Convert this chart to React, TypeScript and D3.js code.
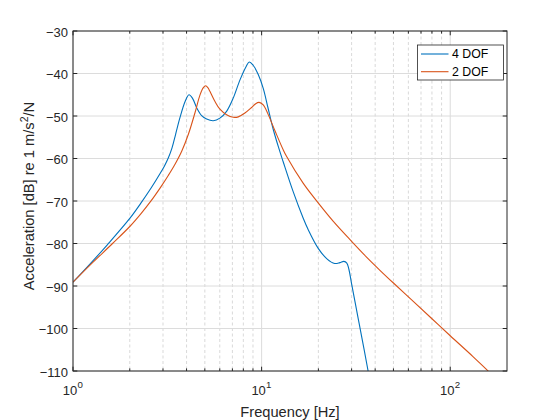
import React from 'react';
import * as d3 from 'd3';

// ---- data ----
const freq4 = [1.0, 1.25, 1.52, 2.0, 2.29, 2.6, 2.89, 3.05, 3.2, 3.35, 3.5, 3.69, 3.93, 4.12, 4.31, 4.52, 4.81, 5.11, 5.54, 6.01, 6.52, 7.07, 7.68, 8.27, 8.6, 9.0, 9.61, 10.2, 10.8, 11.5, 12.3, 13.0, 14.7, 16.6, 17.6, 20, 22.2, 24.4, 26, 27.3, 28.3, 29, 30, 32.5, 34.9, 36.7, 38];
const db4 = [-89.1, -84.5, -80.3, -74.1, -70.5, -66.9, -63.6, -61.8, -59.9, -57.5, -54.3, -50.4, -46.6, -45.0, -45.9, -48.0, -49.9, -50.7, -51.1, -50.5, -48.9, -45.8, -41.5, -38.4, -37.3, -38.0, -40.3, -43.5, -48.0, -53.0, -57.4, -60.7, -67.8, -74.0, -76.6, -81.2, -83.6, -84.7, -84.5, -84.2, -84.6, -86.0, -89.5, -97.6, -104.8, -110, -114];

const freq2 = [1.0, 1.25, 1.62, 2.0, 2.3, 2.58, 2.9, 3.2, 3.45, 3.77, 4.09, 4.43, 4.71, 4.9, 5.05, 5.2, 5.32, 5.66, 6.01, 6.52, 7.07, 7.52, 8.16, 8.85, 9.3, 9.7, 10.2, 10.8, 11.8, 13.0, 13.6, 16.6, 20, 24, 30, 36, 42.4, 50, 63.7, 80, 100, 132, 158, 175];
const db2 = [-89.1, -84.8, -80.0, -76.0, -72.9, -70.1, -66.9, -64.0, -61.6, -58.3, -54.3, -49.3, -45.1, -43.4, -42.9, -43.4, -44.2, -46.6, -48.4, -49.7, -50.3, -50.2, -49.3, -48.0, -47.1, -46.8, -47.4, -49.5, -53.6, -57.9, -59.6, -65.8, -70.5, -74.8, -79.5, -83.2, -86.3, -89.3, -93.6, -97.7, -101.7, -106.6, -109.9, -111.7];

const seriesNames = ['4 DOF', '2 DOF'];
const seriesColors = ['#0072BD', '#D95319'];
const yTicks = [-110, -100, -90, -80, -70, -60, -50, -40, -30];
const xTickExps = [0, 1, 2];
const xDomain = [1, 200];
const yDomain = [-110, -30];
const xLabel = 'Frequency [Hz]';
const yLabelMain = 'Acceleration [dB] re 1 m/s';
const yLabelSup = '2';
const yLabelEnd = '/N';

const W = 560, H = 420;
const L = 73, R = 507, T = 31, B = 371;
const AX = '#262626';
const FONT = '"Liberation Sans", Arial, Helvetica, sans-serif';

export default function App() {
  const x = d3.scaleLog().domain(xDomain).range([L, R]);
  const y = d3.scaleLinear().domain(yDomain).range([B, T]);

  const minor: number[] = [];
  for (const e of xTickExps) {
    for (let m = 2; m <= 9; m++) {
      const v = m * Math.pow(10, e);
      if (v < xDomain[1]) minor.push(v);
    }
  }

  const line = d3.line<[number, number]>()
    .x(d => x(d[0]))
    .y(d => y(d[1]))
    .curve(d3.curveCatmullRom.alpha(0.5));

  const s4 = freq4.map((f, i) => [f, db4[i]] as [number, number]);
  const s2 = freq2.map((f, i) => [f, db2[i]] as [number, number]);
  const series = [s4, s2];

  const fmt = (v: number) => (v < 0 ? '\u2212' + Math.abs(v) : String(v));

  const majTick = 4.3, minTick = 2.6;

  const legX = 417.5, legY = 45, legW = 86, legH = 35;

  return (
    <div style={{ position: 'absolute', left: 0, top: 0 }}>
      <svg width={W} height={H} style={{ display: 'block', fontFamily: FONT }}>
        <rect x={0} y={0} width={W} height={H} fill="#ffffff" />
        <defs>
          <clipPath id="plotclip">
            <rect x={L} y={T} width={R - L} height={B - T} />
          </clipPath>
        </defs>
        {/* minor x grid */}
        {minor.map((v, i) => (
          <line key={'mg' + i} x1={x(v)} x2={x(v)} y1={T} y2={B}
            stroke="#cfcfcf" strokeWidth={0.8} strokeDasharray="3,2.5" />
        ))}
        {/* major x grid */}
        {xTickExps.map(e => (
          <line key={'xg' + e} x1={x(Math.pow(10, e))} x2={x(Math.pow(10, e))} y1={T} y2={B}
            stroke="#dcdcdc" strokeWidth={1} />
        ))}
        {/* y grid */}
        {yTicks.map(v => (
          <line key={'yg' + v} x1={L} x2={R} y1={y(v)} y2={y(v)} stroke="#dcdcdc" strokeWidth={1} />
        ))}
        {/* curves */}
        <g clipPath="url(#plotclip)">
          {series.map((s, i) => (
            <path key={'s' + i} d={line(s) || ''} fill="none" stroke={seriesColors[i]} strokeWidth={1.1} />
          ))}
        </g>
        {/* box */}
        <rect x={L} y={T} width={R - L} height={B - T} fill="none" stroke={AX} strokeWidth={1} />
        {/* y ticks */}
        {yTicks.map(v => (
          <g key={'yt' + v}>
            <line x1={L} x2={L + majTick} y1={y(v)} y2={y(v)} stroke={AX} strokeWidth={1} />
            <line x1={R} x2={R - majTick} y1={y(v)} y2={y(v)} stroke={AX} strokeWidth={1} />
            <text x={L - 5} y={y(v) + 5.5} textAnchor="end" fontSize={13} fill={AX}>{fmt(v)}</text>
          </g>
        ))}
        {/* x ticks */}
        {xTickExps.map(e => {
          const px = x(Math.pow(10, e));
          return (
            <g key={'xt' + e}>
              <line x1={px} x2={px} y1={B} y2={B - majTick} stroke={AX} strokeWidth={1} />
              <line x1={px} x2={px} y1={T} y2={T + majTick} stroke={AX} strokeWidth={1} />
              <text x={px - 3} y={394.5} textAnchor="middle" fontSize={13} fill={AX}>10</text>
              <text x={px + 4.5} y={388} textAnchor="start" fontSize={9.7} fill={AX}>{e}</text>
            </g>
          );
        })}
        {minor.map((v, i) => (
          <g key={'mt' + i}>
            <line x1={x(v)} x2={x(v)} y1={B} y2={B - minTick} stroke={AX} strokeWidth={1} />
            <line x1={x(v)} x2={x(v)} y1={T} y2={T + minTick} stroke={AX} strokeWidth={1} />
          </g>
        ))}
        {/* axis labels */}
        <text x={(L + R) / 2} y={416.5} textAnchor="middle" fontSize={14.67} fill={AX}>{xLabel}</text>
        <text transform={`translate(33.5,196) rotate(-90)`} textAnchor="middle" fontSize={14.67} fill={AX}>
          {yLabelMain}
          <tspan dy={-5.5} fontSize={10.5}>{yLabelSup}</tspan>
          <tspan dy={5.5}>{yLabelEnd}</tspan>
        </text>
        {/* legend */}
        <rect x={legX} y={legY} width={legW} height={legH} fill="#ffffff" stroke={AX} strokeWidth={0.8} />
        {seriesNames.map((n, i) => {
          const ly = 54 + i * 17.7;
          return (
            <g key={'lg' + i}>
              <line x1={421} x2={448.5} y1={ly} y2={ly} stroke={seriesColors[i]} strokeWidth={1.1} />
              <text x={452} y={ly + 4.4} fontSize={12.3} fill="#000">{n}</text>
            </g>
          );
        })}
      </svg>
    </div>
  );
}
